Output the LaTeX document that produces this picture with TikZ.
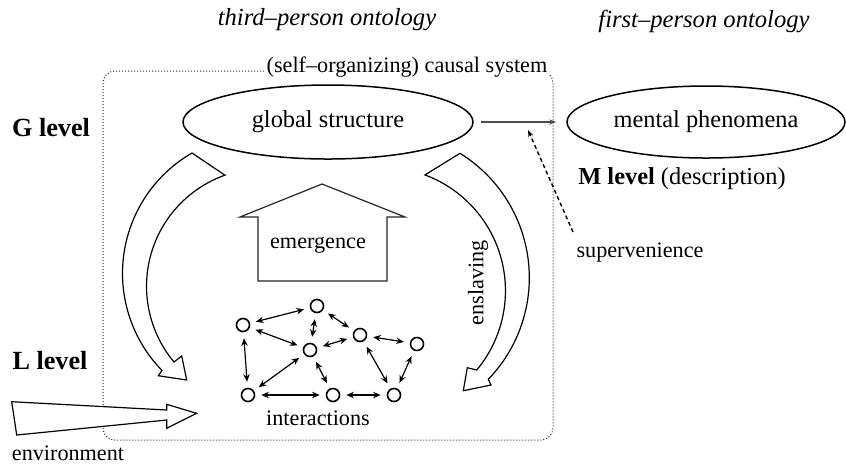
\documentclass[tikz,border=0pt]{standalone}
\usepackage{fontspec}
\setmainfont{Liberation Serif}
\usetikzlibrary{shapes.geometric,arrows.meta}
\begin{document}
\begin{tikzpicture}[x=0.5pt,y=-0.5pt,
  small/.style={font=\fontsize{11.1}{13}\selectfont, inner sep=0},
  big/.style={font=\fontsize{12.2}{14}\selectfont, inner sep=0},
  lvl/.style={font=\fontsize{13.1}{15}\selectfont\bfseries, inner sep=0},
  ital/.style={font=\fontsize{12.3}{14}\selectfont\itshape, inner sep=0},
  oval/.style={draw, ellipse, line width=0.75pt, inner sep=0, font=\fontsize{12.2}{14}\selectfont},
  fatarrow/.style={draw, line width=0.6pt, line join=miter, fill=white},
  agent/.style={circle, draw, line width=0.8pt, minimum size=6.5pt, inner sep=0},
  link/.style={{Stealth[length=3.8pt,width=3.2pt]}-{Stealth[length=3.8pt,width=3.2pt]}, line width=0.6pt, shorten <=3pt, shorten >=3pt},
  sysbox/.style={draw=black!85, line width=0.5pt, dash pattern=on 0.5pt off 1pt, rounded corners=6pt},
  thinarrow/.style={-{Stealth[length=3.5pt,width=2.5pt]}, draw=black!70, line width=0.6pt},
  dasharrow/.style={-{Stealth[length=3.5pt,width=2.5pt]}, line width=0.7pt, dash pattern=on 2pt off 1.5pt},
]
\useasboundingbox (0,0) rectangle (846,463);

% headings
\node[ital] (third) at (327,20) {third–person ontology};
\node[ital] (first) at (704,21) {first–person ontology};

% system box
\draw[sysbox] (103,71) rectangle (553,440);
\node[small, fill=white, inner xsep=1pt, inner ysep=0.5pt] (syslabel) at (407,67) {(self–organizing) causal system};

% levels
\node[lvl] (G) at (51,128) {G level};
\node[lvl] (L) at (50,361) {L level};
\node[small] (env) at (68,453) {environment};

% ellipses
\node[oval, minimum width=145pt, minimum height=37pt] (global) at (328,122) {global structure};
\node[oval, minimum width=139pt, minimum height=36pt] (mental) at (706,122) {mental phenomena};
\draw[thinarrow] ([xshift=3.5pt]global.east) -- ([xshift=-5pt]mental.west);

\node[big] (mlevel) at (682,179) {\textbf{M level} (description)};
\node[small] (superv) at (640,253) {supervenience};
\coordinate (svstart) at (573,232);
\coordinate (svtip) at (528,130);
\draw[dasharrow] (svstart) -- (svtip);

% left curved arrow (G -> L)
\draw[fatarrow] (192,153) arc[start angle=240, end angle=135.7, radius=139]
  -- (158.3,375.7) -- (186.7,380) -- (181.7,356) -- (174,362)
  arc[start angle=140.1, end angle=250.4, radius=118] -- cycle;

% right curved arrow (enslaving)
\draw[fatarrow] (460,153.3) arc[start angle=-58.25, end angle=43.97, radius=146.3]
  -- (491,385) -- (463.3,390.7) -- (467.3,367.7) -- (476.7,370)
  arc[start angle=39.88, end angle=-69.59, radius=123.6] -- cycle;
\node[small, rotate=90] (ensl) at (478,283) {enslaving};

% emergence arrow
\draw[fatarrow, draw=black!85] (322,184) -- (405,217) -- (387,217) -- (387,281)
  -- (258,281) -- (258,217) -- (240,217) -- cycle;
\node[small] (emerg) at (318,245) {emergence};

% environment arrow
\draw[fatarrow] (11.7,401.7) -- (166.7,410) -- (166.7,404.3) -- (196.7,413.3)
  -- (166.7,428.3) -- (166.7,420) -- (16.7,435) -- cycle;

% network
\node[agent] (n1) at (243,325) {};
\node[agent] (n2) at (317,306) {};
\node[agent] (n3) at (310,350) {};
\node[agent] (n4) at (360,335) {};
\node[agent] (n5) at (417,344) {};
\node[agent] (n6) at (248,395) {};
\node[agent] (n7) at (333,395) {};
\node[agent] (n8) at (394,395) {};
\foreach \a/\b in {n1/n2,n1/n3,n1/n6,n2/n3,n2/n4,n3/n4,n3/n6,n3/n7,n4/n5,n4/n8,n5/n8,n6/n7,n7/n8}
  \draw[link] (\a) -- (\b);
\node[small] (inter) at (318,418) {interactions};
\end{tikzpicture}
\end{document}
